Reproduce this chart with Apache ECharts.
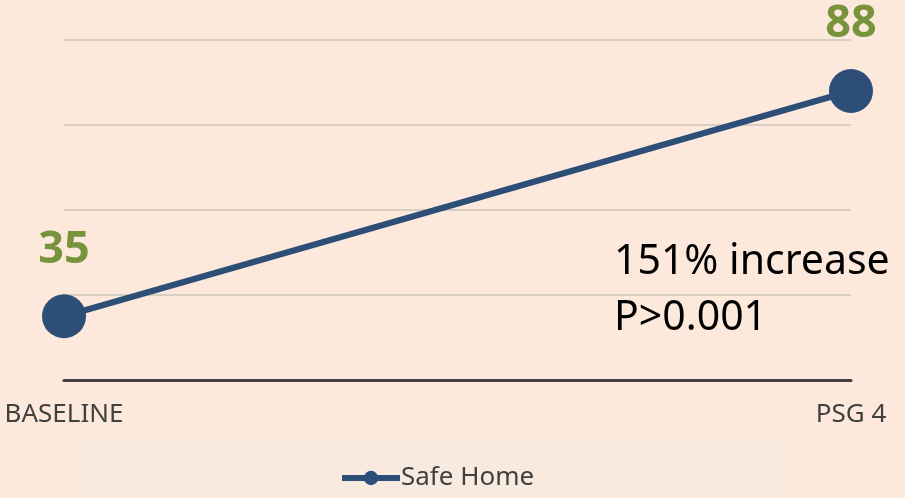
<!DOCTYPE html>
<html>
<head>
<meta charset="utf-8">
<script src="https://cdn.jsdelivr.net/npm/echarts@6/dist/echarts.min.js"></script>
<style>
  html, body { margin: 0; padding: 0; background: #fce9dc; }
  #chart { width: 905px; height: 498px; }
</style>
</head>
<body>
<div id="chart"></div>
<script>
const stages = ['BASELINE', 'PSG 4']
const safeHome = [35, 88]

const font = 'Noto Sans'
const chart = echarts.init(document.getElementById('chart'))

chart.setOption({
  backgroundColor: '#fce9dc',
  animation: false,
  grid: {
    left: 64,
    right: 54,
    top: 40,
    bottom: 118
  },
  graphic: [
    {
      type: 'rect',
      z: 0,
      shape: { x: 85, y: 438, width: 697, height: 60 },
      style: { fill: '#f8eade' }
    },
    {
      type: 'text',
      left: 614,
      top: 234,
      z: 10,
      style: {
        text: '151% increase\nP>0.001',
        font: '41px "Noto Sans"',
        lineHeight: 56,
        fill: '#000000'
      }
    }
  ],
  legend: {
    data: ['Safe Home'],
    left: 334,
    top: 460,
    itemWidth: 58,
    itemHeight: 18,
    itemGap: 4,
    lineStyle: { width: 6 },
    textStyle: {
      fontFamily: font,
      fontSize: 26,
      color: '#404040',
      padding: [0, 0, 0, -4]
    }
  },
  xAxis: {
    type: 'category',
    boundaryGap: false,
    data: stages,
    axisLine: { lineStyle: { color: '#404040', width: 3 } },
    axisTick: { show: false },
    axisLabel: {
      fontFamily: font,
      fontSize: 26,
      color: '#404040',
      margin: 22
    }
  },
  yAxis: {
    type: 'value',
    min: 20,
    max: 100,
    interval: 20,
    axisLabel: { show: false },
    axisLine: { show: false },
    axisTick: { show: false },
    splitLine: { lineStyle: { color: '#d9cec3', width: 2 } }
  },
  series: [
    {
      name: 'Safe Home',
      type: 'line',
      data: safeHome,
      symbol: 'circle',
      symbolSize: 44,
      itemStyle: { color: '#2c4e77' },
      lineStyle: { color: '#2c4e77', width: 6 },
      label: {
        show: true,
        position: 'top',
        distance: 22,
        fontFamily: font,
        fontWeight: 'bold',
        fontSize: 45,
        color: '#77933c'
      }
    }
  ]
})
</script>
</body>
</html>
